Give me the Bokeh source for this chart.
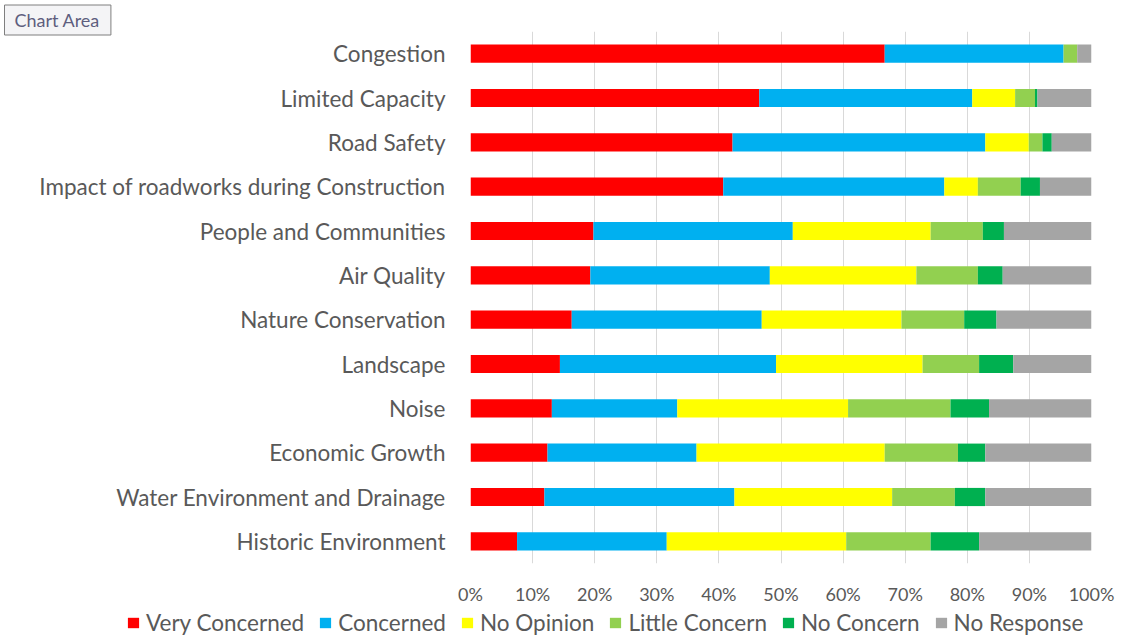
from bokeh.plotting import figure
from bokeh.models import FactorRange, ColumnDataSource, Legend, LegendItem, Title, FixedTicker, CustomJSTickFormatter
from bokeh.embed import file_html
from bokeh.resources import INLINE

categories = ["Congestion", "Limited Capacity", "Road Safety",
              "Impact of roadworks during Construction", "People and Communities",
              "Air Quality", "Nature Conservation", "Landscape", "Noise",
              "Economic Growth", "Water Environment and Drainage", "Historic Environment"]
series = ["Very Concerned", "Concerned", "No Opinion", "Little Concern", "No Concern", "No Response"]
very_concerned = [66.7, 46.5, 42.2, 40.7, 19.8, 19.3, 16.3, 14.4, 13.1, 12.4, 11.9, 7.5]
concerned      = [28.8, 34.3, 40.7, 35.6, 32.1, 28.9, 30.6, 34.8, 20.2, 24.0, 30.6, 24.1]
no_opinion     = [0.0, 6.9, 7.0, 5.4, 22.2, 23.6, 22.5, 23.6, 27.5, 30.3, 25.4, 28.9]
little_concern = [2.2, 3.2, 2.2, 6.9, 8.4, 9.9, 10.1, 9.1, 16.5, 11.8, 10.1, 13.6]
no_concern     = [0.0, 0.4, 1.5, 3.1, 3.4, 4.0, 5.2, 5.5, 6.2, 4.4, 4.9, 7.8]
no_response    = [2.3, 8.7, 6.4, 8.3, 14.1, 14.3, 15.3, 12.6, 16.5, 17.1, 17.1, 18.1]
colors = ["#FF0000", "#00B0F0", "#FFFF00", "#92D050", "#00B050", "#A5A5A5"]
x_ticks = [0, 10, 20, 30, 40, 50, 60, 70, 80, 90, 100]

FONT = "Lato"
TXT = "#595959"

keys = ["vc", "c", "no", "lc", "nc", "nr"]
data = {"cat": categories}
for k, vals in zip(keys, [very_concerned, concerned, no_opinion, little_concern, no_concern, no_response]):
    data[k] = [v / 100.0 for v in vals]
source = ColumnDataSource(data)

p = figure(width=1118, height=608, output_backend="svg", toolbar_location=None,
           y_range=FactorRange(factors=categories[::-1]), x_range=(0, 1),
           min_border_left=470, min_border_right=27, min_border_top=31, min_border_bottom=45)
p.outline_line_color = None
p.background_fill_color = "white"
p.border_fill_color = "white"

p.hbar_stack(keys, y="cat", height=0.41, color=colors, line_color=None, source=source)

p.xaxis.ticker = FixedTicker(ticks=[t / 100 for t in x_ticks])
p.xaxis.formatter = CustomJSTickFormatter(code="return Math.round(tick*100) + '%';")
p.xaxis.axis_line_color = None
p.xaxis.major_tick_line_color = None
p.xaxis.minor_tick_line_color = None
p.xaxis.major_tick_out = 0
p.xaxis.major_tick_in = 0
p.xaxis.major_label_text_font = FONT
p.xaxis.major_label_text_font_size = "18px"
p.xaxis.major_label_text_color = TXT
p.xaxis.major_label_standoff = 19

p.yaxis.axis_line_color = None
p.yaxis.major_tick_line_color = None
p.yaxis.minor_tick_line_color = None
p.yaxis.major_tick_out = 0
p.yaxis.major_tick_in = 0
p.yaxis.major_label_text_font = FONT
p.yaxis.major_label_text_font_size = "22.5px"
p.yaxis.major_label_text_color = TXT
p.yaxis.major_label_standoff = 25

p.xgrid.grid_line_color = "#D9D9D9"
p.xgrid.grid_line_width = 1
p.ygrid.grid_line_color = None

chart_area = Title(text="Chart Area", align="left", offset=-466, standoff=-7,
                   text_font=FONT, text_font_size="18px", text_color="#5E5E7E",
                   text_font_style="normal", padding=(10, 11, 4, 4),
                   background_fill_color="#F4F4F6", border_line_color="#7F7F7F",
                   border_line_width=1)
p.add_layout(chart_area, "above")

# legend strip: a separate root; its bars (same source) use factors absent from its range,
# so only the legend swatches show
lg = figure(width=1118, height=36, output_backend="svg", toolbar_location=None,
            x_range=(0, 1), y_range=FactorRange(factors=["legend"]),
            min_border_left=0, min_border_right=0, min_border_top=0, min_border_bottom=0)
lg.axis.visible = False
lg.grid.visible = False
lg.outline_line_color = None
leg_renderers = lg.hbar_stack(keys, y="cat", height=0.41, color=colors, line_color=None, source=source)
legend = Legend(items=[LegendItem(label=s, renderers=[r]) for s, r in zip(series, leg_renderers)],
                orientation="horizontal", location=(126, 8), padding=0, margin=0,
                spacing=14, glyph_width=14, glyph_height=13, label_standoff=6,
                label_text_font=FONT, label_text_font_size="22.5px", label_text_color=TXT,
                label_height=22, border_line_color=None, background_fill_alpha=0)
lg.add_layout(legend, "center")

open("out.html", "w").write(file_html([p, lg], INLINE))
